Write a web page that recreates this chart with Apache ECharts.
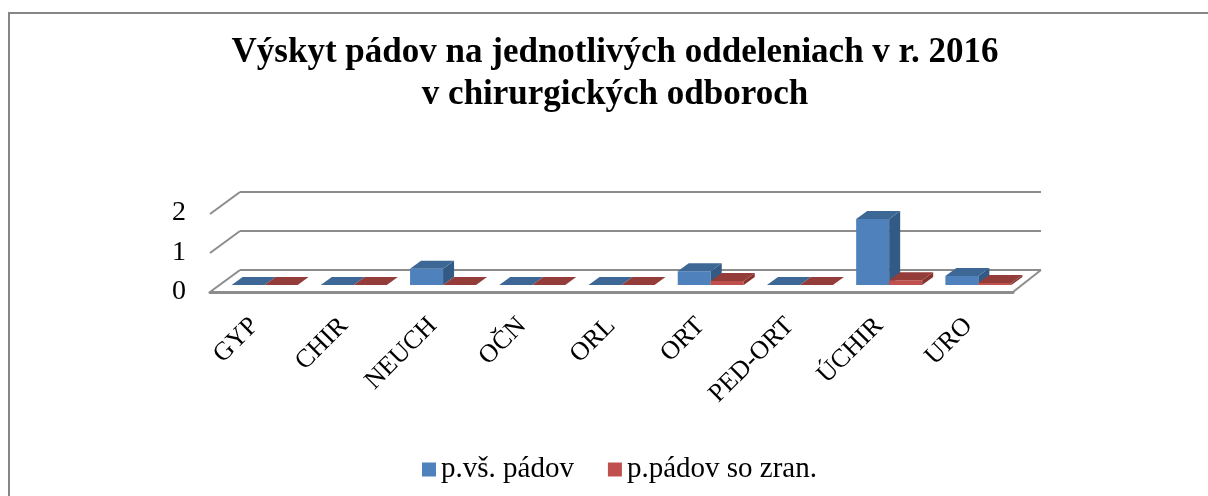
<!DOCTYPE html>
<html>
<head>
<meta charset="utf-8">
<script src="https://cdn.jsdelivr.net/npm/echarts@6/dist/echarts.min.js"></script>
<style>
  html, body { margin: 0; padding: 0; background: #fff; }
  #graf { width: 1208px; height: 496px; }
</style>
</head>
<body>
<div id="graf"></div>
<script>
// odhadnuté hodnoty z obrázka
const oddelenia = ["GYP", "CHIR", "NEUCH", "OČN", "ORL", "ORT", "PED-ORT", "ÚCHIR", "URO"];
const vsetkyPady = [0, 0, 0.41, 0, 0, 0.35, 0, 1.67, 0.23];
const padySoZranenim = [0, 0, 0, 0, 0, 0.1, 0, 0.12, 0.05];
const hodnotyOsi = [0, 1, 2];

const pismo = "Liberation Serif";
const hlbka = [30, -22];      // posun zadnej steny
const rovinaStlpcov = [10, -7]; // stlpce sedia kusok za prednou hranou
const hlbkaStlpca = [11, -8];
const sirkaStlpca = 33;

const farby = {
  modra: { predok: "#4F81BD", vrch: "#3D6896", bok: "#335A85" },
  cervena: { predok: "#C0504D", vrch: "#943C3A", bok: "#873431" },
};

function kocka(farba, strana) {
  return function (params, api) {
    const i = api.value(0);
    const v = api.value(1);
    const dole = api.coord([i, 0]);
    const hore = api.coord([i, v]);
    const x0 = dole[0] + rovinaStlpcov[0] + (strana < 0 ? -sirkaStlpca : 0);
    const y0 = dole[1] + rovinaStlpcov[1];
    const y1 = hore[1] + rovinaStlpcov[1];
    const [dx, dy] = hlbkaStlpca;
    const w = sirkaStlpca;
    const deti = [];
    if (y0 - y1 > 0.5) {
      deti.push({ type: "rect", shape: { x: x0, y: y1, width: w, height: y0 - y1 }, style: { fill: farba.predok } });
      deti.push({ type: "polygon", shape: { points: [[x0 + w, y1], [x0 + w, y0], [x0 + w + dx, y0 + dy], [x0 + w + dx, y1 + dy]] }, style: { fill: farba.bok } });
    }
    deti.push({ type: "polygon", shape: { points: [[x0, y1], [x0 + w, y1], [x0 + w + dx, y1 + dy], [x0 + dx, y1 + dy]] }, style: { fill: farba.vrch } });
    return { type: "group", children: deti };
  };
}

const graf = echarts.init(document.getElementById("graf"));

const option = {
  animation: false,
  title: {
    text: "Výskyt pádov na jednotlivých oddeleniach v r. 2016\nv chirurgických odboroch",
    left: 615,
    textAlign: "center",
    top: 32,
    padding: 0,
    textStyle: { fontFamily: pismo, fontWeight: "bold", fontSize: 35, lineHeight: 42, color: "#000" },
  },
  legend: {
    top: 450,
    left: 417,
    itemWidth: 14,
    itemHeight: 14,
    itemGap: 34,
    icon: "rect",
    textStyle: { fontFamily: pismo, fontSize: 29, color: "#000" },
    data: ["p.vš. pádov", "p.pádov so zran."],
  },
  graphic: [
    { type: "rect", shape: { x: 9, y: 13, width: 1300, height: 600 }, style: { fill: "none", stroke: "#868686", lineWidth: 2 }, z: -10 },
  ],
  grid: [
    { left: 210, width: 803, top: 213, height: 79 },
    { left: 240, width: 801, top: 192, height: 78 },
  ],
  xAxis: [
    {
      gridIndex: 0,
      type: "category",
      data: oddelenia,
      axisLine: { lineStyle: { color: "#8C8C8C", width: 3 } },
      axisTick: { show: false },
      axisLabel: { interval: 0, rotate: 45, margin: 30, fontFamily: pismo, fontSize: 26, color: "#000" },
    },
    { gridIndex: 1, type: "value", min: 0, max: 1, show: false },
  ],
  yAxis: [
    {
      gridIndex: 0,
      type: "value",
      min: hodnotyOsi[0],
      max: hodnotyOsi[hodnotyOsi.length - 1],
      interval: 1,
      axisLine: { show: false },
      axisTick: { show: false },
      splitLine: { show: false },
      axisLabel: { margin: 24, fontFamily: pismo, fontSize: 28, color: "#000" },
    },
    {
      gridIndex: 1,
      type: "value",
      min: hodnotyOsi[0],
      max: hodnotyOsi[hodnotyOsi.length - 1],
      interval: 1,
      axisLine: { show: false },
      axisTick: { show: false },
      axisLabel: { show: false },
      splitLine: { lineStyle: { color: "#8C8C8C", width: 2 } },
    },
  ],
  series: [
    {
      // bocne spojnice stien
      type: "custom",
      xAxisIndex: 1,
      yAxisIndex: 1,
      silent: true,
      data: hodnotyOsi.map((v) => [0, v]),
      renderItem: function (params, api) {
        const v = api.value(1);
        const p = api.coord([0, v]);
        const ciary = [
          { type: "line", shape: { x1: p[0] - hlbka[0], y1: p[1] - hlbka[1], x2: p[0], y2: p[1] }, style: { stroke: "#8C8C8C", lineWidth: 2 } },
        ];
        if (v === 0) {
          const q = api.coord([1, 0]);
          ciary.push({ type: "line", shape: { x1: q[0] - 28, y1: q[1] - hlbka[1], x2: q[0], y2: q[1] }, style: { stroke: "#8C8C8C", lineWidth: 2 } });
        }
        return { type: "group", children: ciary };
      },
    },
    {
      name: "p.vš. pádov",
      type: "custom",
      itemStyle: { color: farby.modra.predok },
      data: vsetkyPady.map((v, i) => [i, v]),
      renderItem: kocka(farby.modra, -1),
    },
    {
      name: "p.pádov so zran.",
      type: "custom",
      itemStyle: { color: farby.cervena.predok },
      data: padySoZranenim.map((v, i) => [i, v]),
      renderItem: kocka(farby.cervena, 1),
    },
  ],
};

graf.setOption(option);
</script>
</body>
</html>
